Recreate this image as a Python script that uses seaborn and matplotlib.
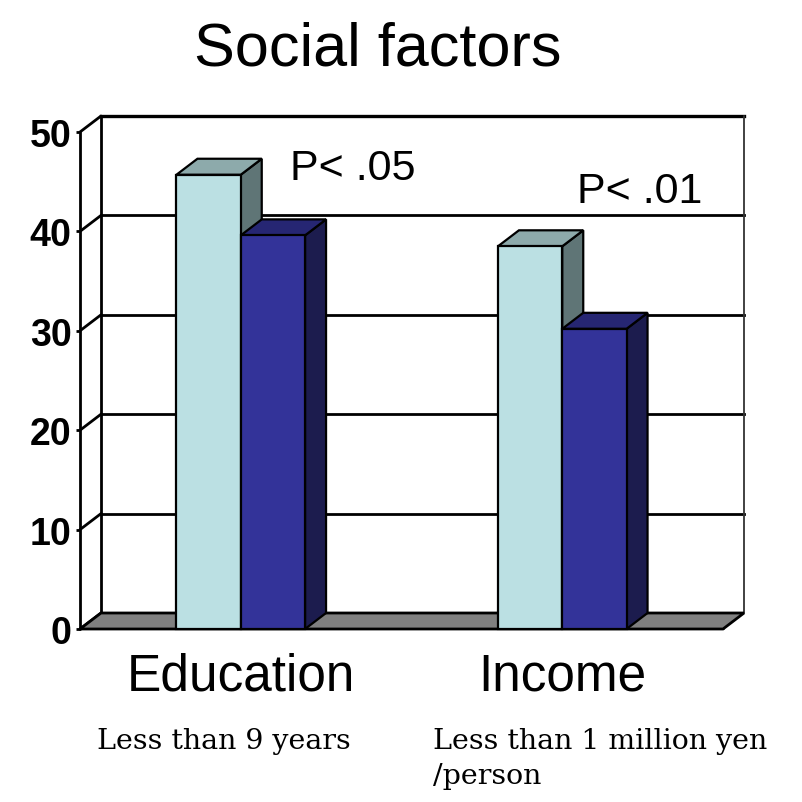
import matplotlib
matplotlib.use("Agg")
import matplotlib.pyplot as plt
import matplotlib.colors as mcolors
from matplotlib.patches import Polygon, Rectangle
import seaborn as sns
import pandas as pd

# ---- data ----
categories = ["Education", "Income"]
groups = ["Group 1", "Group 2"]
values_group1 = [45.7, 38.5]
values_group2 = [39.6, 30.2]
y_ticks = [0, 10, 20, 30, 40, 50]
p_labels = ["P< .05", "P< .01"]
sub_labels = ["Less than 9 years", "Less than 1 million yen", "/person"]
title = "Social factors"

# ---- styles ----
FRONT = {"Group 1": "#BBE0E3", "Group 2": "#333399"}
TOP = {"#bbe0e3": "#8DAAAB", "#333399": "#262673"}
SIDE = {"#bbe0e3": "#5F7576", "#333399": "#1C1C4E"}
FLOOR = "#808080"
DEPTH_PX = (21, 16)

df = pd.DataFrame({
    "category": categories * 2,
    "group": [groups[0]] * len(categories) + [groups[1]] * len(categories),
    "value": values_group1 + values_group2,
})

sns.set_theme(style="white")
plt.rcParams["font.family"] = ["Liberation Sans", "DejaVu Sans"]
plt.rcParams["text.color"] = "black"
plt.rcParams["axes.labelcolor"] = "black"
plt.rcParams["xtick.color"] = "black"
plt.rcParams["ytick.color"] = "black"

W, H = 802, 803
fig = plt.figure(figsize=(W / 100, H / 100), dpi=100)
ax = fig.add_axes([80 / W, 1 - 630 / H, 643 / W, 497 / H])
ax.set_facecolor("none")

sns.barplot(data=df, x="category", y="value", hue="group", palette=FRONT,
            width=0.4, saturation=1, edgecolor="black", linewidth=1.6,
            errorbar=None, legend=False, ax=ax)
bars = sorted([p for p in ax.patches if isinstance(p, Rectangle)], key=lambda p: p.get_x())

ax.set_xlim(-0.5, len(categories) - 0.5)
ax.set_ylim(0, max(y_ticks))
for s in ax.spines.values():
    s.set_visible(False)
ax.set_xlabel("")
ax.set_ylabel("")

# depth in data units
t = ax.transData
x0p, y0p = t.transform((0, 0))
x1p, y1p = t.transform((1, 10))
ddx = DEPTH_PX[0] / (x1p - x0p)
ddy = DEPTH_PX[1] / ((y1p - y0p) / 10)

xl0, xl1 = ax.get_xlim()
ytop = max(y_ticks)
lw_frame = 2.0

# back wall
ax.add_patch(Polygon([(xl0 + ddx, ddy), (xl1 + ddx, ddy), (xl1 + ddx, ytop + ddy), (xl0 + ddx, ytop + ddy)],
                     closed=True, facecolor="white", edgecolor="none", zorder=0.2, clip_on=False))
# grid lines on back wall
for y in y_ticks[1:]:
    ax.plot([xl0 + ddx, xl1 + ddx], [y + ddy, y + ddy], color="black",
            lw=(2.4 if y == ytop else lw_frame), zorder=0.5,
            clip_on=False, solid_capstyle="projecting")
# back wall left & right edges
ax.plot([xl0 + ddx, xl0 + ddx], [ddy, ytop + ddy], color="black", lw=lw_frame, zorder=0.5, clip_on=False)
ax.plot([xl1 + ddx, xl1 + ddx], [ddy, ytop + ddy], color="#333333", lw=1.3, zorder=0.5, clip_on=False)
# side wall diagonals
for y in y_ticks:
    ax.plot([xl0, xl0 + ddx], [y, y + ddy], color="black", lw=lw_frame, zorder=0.6, clip_on=False)
# front left axis line
ax.plot([xl0, xl0], [0, ytop], color="black", lw=lw_frame, zorder=0.6, clip_on=False)
# floor
ax.add_patch(Polygon([(xl0, 0), (xl1, 0), (xl1 + ddx, ddy), (xl0 + ddx, ddy)], closed=True,
                     facecolor=FLOOR, edgecolor="black", lw=lw_frame, zorder=1, clip_on=False))

# 3D bars
for k, b in enumerate(bars):
    x, w, h = b.get_x(), b.get_width(), b.get_height()
    key = mcolors.to_hex(b.get_facecolor())
    b.set_zorder(4 + 2 * k)
    b.set_clip_on(False)
    top = Polygon([(x, h), (x + w, h), (x + w + ddx, h + ddy), (x + ddx, h + ddy)], closed=True,
                  facecolor=TOP[key], edgecolor="black", lw=1.6, zorder=3 + 2 * k, clip_on=False)
    side = Polygon([(x + w, 0), (x + w + ddx, ddy), (x + w + ddx, h + ddy), (x + w, h)], closed=True,
                   facecolor=SIDE[key], edgecolor="black", lw=1.6, zorder=3 + 2 * k, clip_on=False)
    ax.add_patch(side)
    ax.add_patch(top)

# ticks
ax.set_yticks(y_ticks)
ax.set_yticklabels([str(v) for v in y_ticks], fontsize=27, fontweight="bold")
ax.tick_params(axis="y", which="major", left=True, direction="out", length=3, width=2, pad=3, colors="black")
ax.set_xticks(range(len(categories)))
ax.set_xticklabels(categories, fontsize=37)
ax.set_xticks([xl0 + 1 + i for i in range(len(categories))], minor=True)
ax.tick_params(axis="x", which="major", bottom=True, length=0, pad=16, colors="black")
ax.tick_params(axis="x", which="minor", bottom=True, direction="in", length=9, width=2, color="black")

# p-value annotations
ax.text(0.153, 45.3, p_labels[0], fontsize=31, ha="left", va="baseline", zorder=20, clip_on=False)
ax.text(1.047, 42.96, p_labels[1], fontsize=31, ha="left", va="baseline", zorder=20, clip_on=False)

# title
fig.text(378 / W, 1 - 65 / H, title, fontsize=44, ha="center", va="baseline")

# subtitles
serif = ["DejaVu Serif"]
fig.text(97 / W, 1 - 749 / H, sub_labels[0], fontsize=20.5, family=serif, ha="left", va="baseline")
fig.text(433 / W, 1 - 749 / H, sub_labels[1], fontsize=20.5, family=serif, ha="left", va="baseline")
fig.text(433 / W, 1 - 784 / H, sub_labels[2], fontsize=20.5, family=serif, ha="left", va="baseline")

fig.savefig("out.png", dpi=100)
